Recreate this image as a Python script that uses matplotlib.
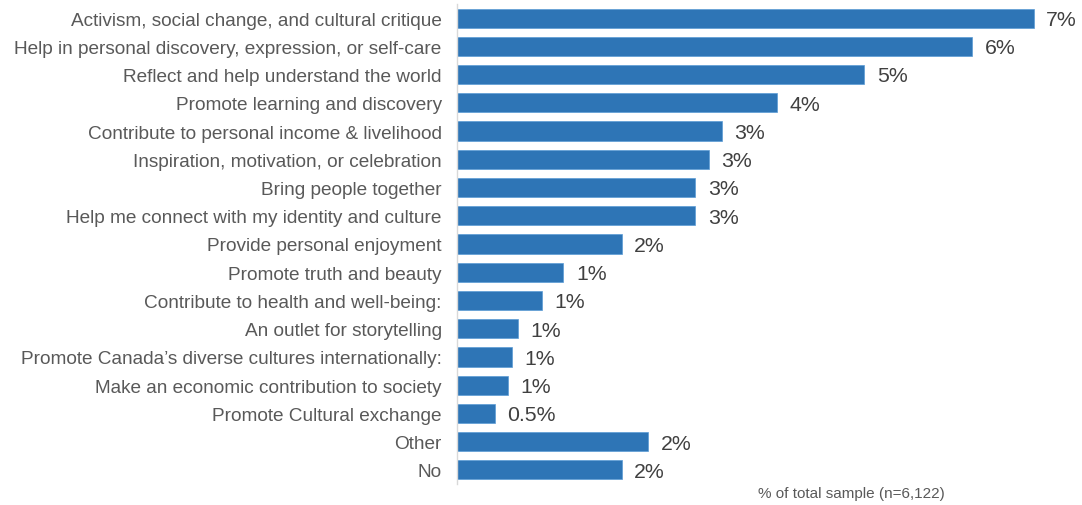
import matplotlib.pyplot as plt

categories = [
    "Activism, social change, and cultural critique",
    "Help in personal discovery, expression, or self-care",
    "Reflect and help understand the world",
    "Promote learning and discovery",
    "Contribute to personal income & livelihood",
    "Inspiration, motivation, or celebration",
    "Bring people together",
    "Help me connect with my identity and culture",
    "Provide personal enjoyment",
    "Promote truth and beauty",
    "Contribute to health and well-being:",
    "An outlet for storytelling",
    "Promote Canada\u2019s diverse cultures internationally:",
    "Make an economic contribution to society",
    "Promote Cultural exchange",
    "Other",
    "No",
]
shares = [7.21, 6.44, 5.09, 4.0, 3.31, 3.15, 2.98, 2.98, 2.06, 1.33,
          1.06, 0.76, 0.69, 0.64, 0.47, 2.39, 2.06]
note = "% of total sample (n=6,122)"


def fmt(v):
    # whole percents, one decimal for anything that would round to zero
    return f"{v:.0f}%" if round(v) >= 1 else f"{v:.1f}%"


plt.rcParams['font.family'] = ['Liberation Sans', 'DejaVu Sans']

fig = plt.figure(figsize=(10.82, 5.06), dpi=100)
ax = fig.add_axes([457 / 1082, 21 / 506, 625 / 1082, 480 / 506])

y = range(len(categories))
ax.barh(y, shares, height=0.68, color='#2e75b6', edgecolor='#5b9bd5', linewidth=0.5)
ax.set_ylim(len(categories) - 0.5, -0.5)
ax.set_xlim(0, 625 / 80)

for i, v in enumerate(shares):
    ax.annotate(fmt(v), (v, i), xytext=(9, -1), textcoords='offset points',
                va='center', ha='left', fontsize=15.3, color='#404040')

ax.set_yticks(list(y))
ax.set_yticklabels(categories, fontsize=13.7, color='#595959')
ax.tick_params(axis='y', length=0, pad=11)
ax.set_xticks([])
for side in ['top', 'right', 'bottom']:
    ax.spines[side].set_visible(False)
ax.spines['left'].set_color('#d9d9d9')
ax.spines['left'].set_linewidth(1)

fig.text(758 / 1082, 12 / 506, note, fontsize=11, color='#595959', ha='left', va='center')

fig.savefig('out.png', dpi=100)
